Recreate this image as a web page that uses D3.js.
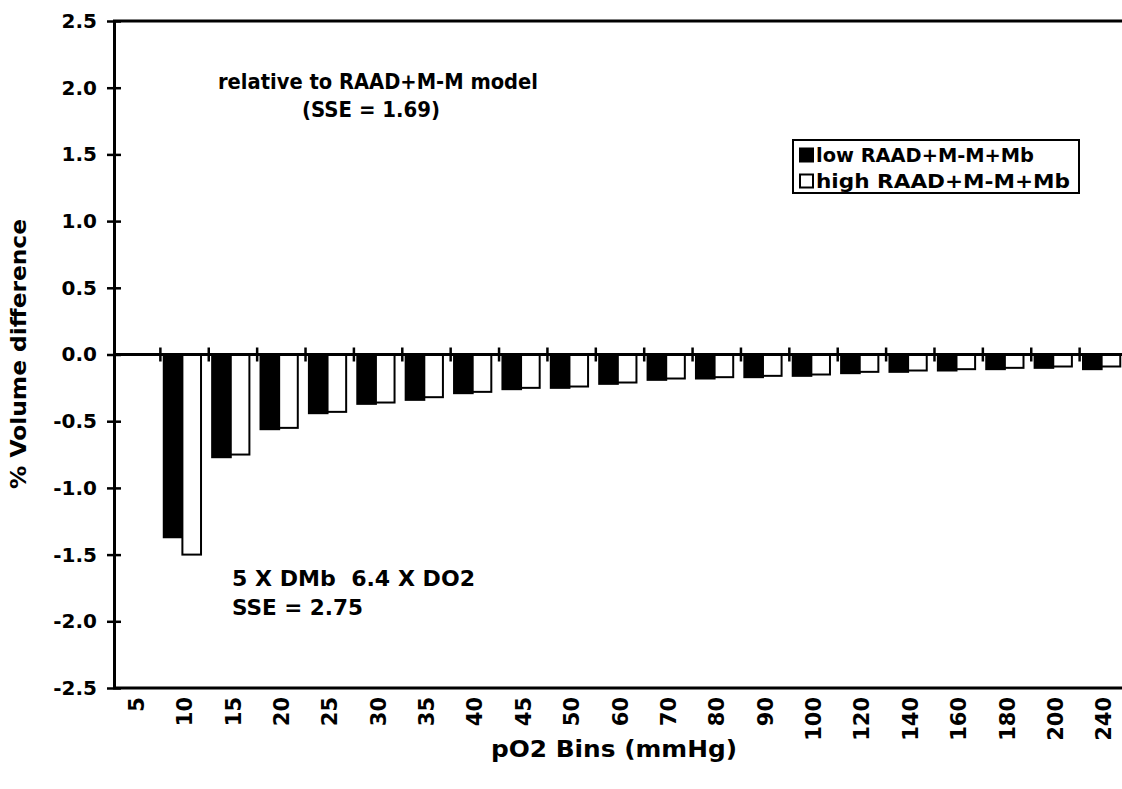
<!DOCTYPE html>
<html>
<head>
<meta charset="utf-8">
<script src="https://cdn.jsdelivr.net/npm/d3@7"></script>
<style>
	body { margin: 0; background: #fff; }
	text { font-family: "DejaVu Sans", sans-serif; font-weight: bold; fill: #000; }
</style>
</head>
<body>
<div class="chart"></div>
<script>

// pO2 bins on the x axis
var bins = ["5", "10", "15", "20", "25", "30", "35", "40", "45", "50", "60", "70", "80", "90", "100", "120", "140", "160", "180", "200", "240"];

// % volume difference
var lowValues  = [0, -1.37, -0.77, -0.56, -0.44, -0.37, -0.34, -0.29, -0.26, -0.25, -0.22, -0.19, -0.18, -0.17, -0.16, -0.14, -0.13, -0.12, -0.11, -0.10, -0.11];
var highValues = [0, -1.50, -0.75, -0.55, -0.43, -0.36, -0.32, -0.28, -0.25, -0.24, -0.21, -0.18, -0.17, -0.16, -0.15, -0.13, -0.12, -0.11, -0.10, -0.09, -0.09];

var seriesNames = ["low RAAD+M-M+Mb", "high RAAD+M-M+Mb"];
var seriesFill = ["#000", "#fff"];

var yTicks = [-2.5, -2.0, -1.5, -1.0, -0.5, 0.0, 0.5, 1.0, 1.5, 2.0, 2.5];

var data = bins.map(function(b, i) {
	return { bin: b, values: [lowValues[i], highValues[i]] };
});

var W = 1122, H = 789;

var svg = d3.select(".chart")
	.append("svg")
	.attr("width", W)
	.attr("height", H);

// plot area runs past the right edge of the picture, like the scan
var x = d3.scaleBand()
	.domain(bins)
	.range([112, 1128]);

var xInner = d3.scaleBand()
	.domain([0, 1])
	.range([x.bandwidth() * 0.07, x.bandwidth() * 0.84]);

var y = d3.scaleLinear()
	.domain([-2.5, 2.5])
	.range([688, 21]);

/* frame lines top and bottom */
svg.append("line")
	.attr("x1", 113).attr("x2", W)
	.attr("y1", y(2.5)).attr("y2", y(2.5))
	.attr("stroke", "#000").attr("stroke-width", 3);

svg.append("line")
	.attr("x1", 113).attr("x2", W)
	.attr("y1", y(-2.5)).attr("y2", y(-2.5))
	.attr("stroke", "#000").attr("stroke-width", 3);

/* bars */
var groups = svg.append("g")
	.selectAll("g")
	.data(data)
	.join("g")
	.attr("transform", d => "translate(" + x(d.bin) + ",0)");

groups.selectAll("rect")
	.data(d => d.values.map((v, i) => ({ v: v, s: i })).filter(e => e.v !== 0))
	.join("rect")
	.attr("x", d => xInner(d.s))
	.attr("width", xInner.bandwidth())
	.attr("y", d => y(Math.max(0, d.v)))
	.attr("height", d => Math.abs(y(d.v) - y(0)))
	.attr("fill", d => seriesFill[d.s])
	.attr("stroke", "#000")
	.attr("stroke-width", 2);

/* y axis */
var yAxis = svg.append("g")
	.attr("transform", "translate(114,0)")
	.call(d3.axisLeft(y).tickValues(yTicks).tickFormat(d => d.toFixed(1)).tickSize(7).tickSizeOuter(0));

yAxis.select(".domain").attr("stroke-width", 3);
yAxis.selectAll(".tick line").attr("x2", 7).attr("x1", -7).attr("stroke-width", 2.5);
yAxis.selectAll(".tick text")
	.attr("x", -17)
	.style("font-size", "20px")
	.style("font-family", "DejaVu Sans")
	.style("font-weight", "bold");

/* zero line with category ticks */
var zeroAxis = svg.append("g")
	.attr("transform", "translate(0," + y(0) + ")");

zeroAxis.append("line")
	.attr("x1", 113).attr("x2", W)
	.attr("stroke", "#000").attr("stroke-width", 3);

zeroAxis.selectAll("line.bound")
	.data(bins.slice(1))
	.join("line")
	.attr("class", "bound")
	.attr("x1", d => x(d)).attr("x2", d => x(d))
	.attr("y1", -7).attr("y2", 7)
	.attr("stroke", "#000").attr("stroke-width", 2.5);

/* x tick labels, rotated */
svg.append("g")
	.selectAll("text")
	.data(bins)
	.join("text")
	.attr("transform", d => "translate(" + (x(d) + x.bandwidth() / 2) + "," + 697 + ") rotate(-90)")
	.attr("dy", "0.36em")
	.attr("text-anchor", "end")
	.style("font-size", "21px")
	.text(d => d);

/* axis titles */
svg.append("text")
	.attr("x", 614)
	.attr("y", 757)
	.attr("text-anchor", "middle")
	.style("font-size", "23px")
	.attr("textLength", 246)
	.attr("lengthAdjust", "spacingAndGlyphs")
	.text("pO2 Bins (mmHg)");

svg.append("text")
	.attr("transform", "translate(26,354) rotate(-90)")
	.attr("text-anchor", "middle")
	.style("font-size", "22px")
	.attr("textLength", 270)
	.attr("lengthAdjust", "spacingAndGlyphs")
	.text("% Volume difference");

/* annotations */
var notes = [
	{ text: "relative to RAAD+M-M model", x: 218, y: 89, len: 320 },
	{ text: "(SSE = 1.69)", x: 302, y: 117, len: 138 },
	{ text: "5 X DMb  6.4 X DO2", x: 232, y: 586, len: 243 },
	{ text: "SSE = 2.75", x: 232, y: 615, len: 131 }
];

svg.append("g")
	.selectAll("text")
	.data(notes)
	.join("text")
	.attr("x", d => d.x)
	.attr("y", d => d.y)
	.attr("textLength", d => d.len)
	.attr("lengthAdjust", "spacingAndGlyphs")
	.style("font-size", "21px")
	.style("white-space", "pre")
	.text(d => d.text);

/* legend */
var legendLen = [218, 254];

var legend = svg.append("g");

legend.append("rect")
	.attr("x", 793).attr("y", 140)
	.attr("width", 286).attr("height", 53)
	.attr("fill", "#fff")
	.attr("stroke", "#000").attr("stroke-width", 2);

var items = legend.selectAll("g.item")
	.data(seriesNames)
	.join("g")
	.attr("class", "item")
	.attr("transform", (d, i) => "translate(800," + (155 + i * 26) + ")");

items.append("rect")
	.attr("x", 0).attr("y", -6.5)
	.attr("width", 13).attr("height", 13)
	.attr("fill", (d, i) => seriesFill[i])
	.attr("stroke", "#000").attr("stroke-width", 2);

items.append("text")
	.attr("x", 16)
	.attr("y", 7)
	.attr("textLength", (d, i) => legendLen[i])
	.attr("lengthAdjust", "spacingAndGlyphs")
	.style("font-size", "19px")
	.text(d => d);

</script>
</body>
</html>
